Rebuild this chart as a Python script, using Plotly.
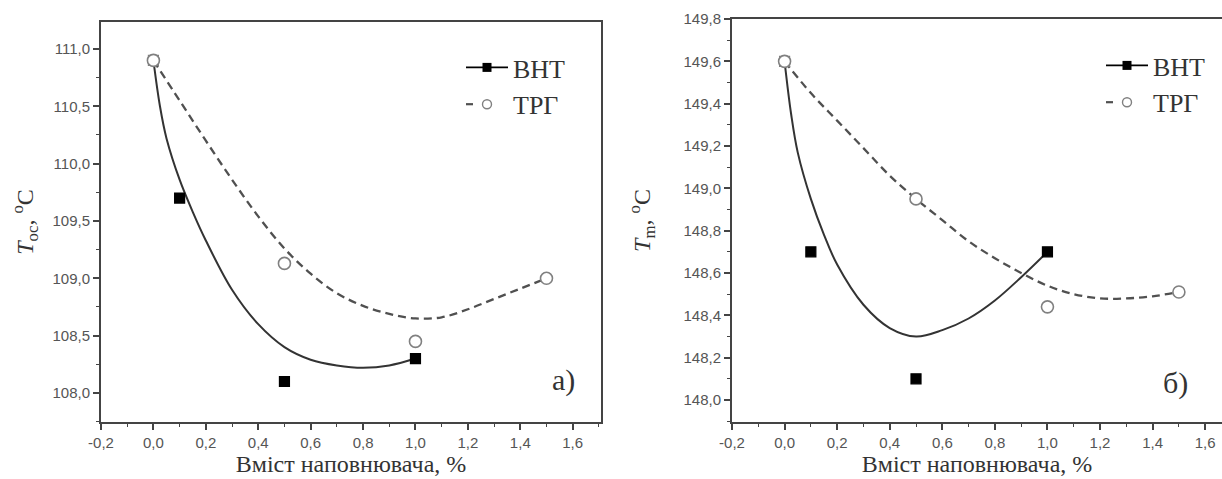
import plotly.graph_objects as go

# ---------------- data ----------------
# panel a) : T_oc
a_bht_x = [0.0, 0.1, 0.5, 1.0]
a_bht_y = [110.9, 109.7, 108.1, 108.3]
a_trg_x = [0.0, 0.5, 1.0, 1.5]
a_trg_y = [110.9, 109.13, 108.45, 109.0]
# fitted curves
a_bht_fit_x = [0, 0.025, 0.05, 0.1, 0.15, 0.2, 0.3, 0.4, 0.5, 0.6, 0.7, 0.8, 0.9, 1.0]
a_bht_fit_y = [110.9, 110.5, 110.22, 109.86, 109.58, 109.33, 108.9, 108.6, 108.4, 108.29, 108.24, 108.22, 108.24, 108.3]
a_trg_fit_x = [0, 0.1, 0.2, 0.3, 0.4, 0.5, 0.6, 0.7, 0.8, 0.9, 1.0, 1.1, 1.2, 1.3, 1.4, 1.5]
a_trg_fit_y = [110.9, 110.55, 110.2, 109.86, 109.54, 109.26, 109.04, 108.87, 108.76, 108.69, 108.65, 108.66, 108.73, 108.82, 108.91, 109.0]

# panel б) : T_m
b_bht_x = [0.0, 0.1, 0.5, 1.0]
b_bht_y = [149.6, 148.7, 148.1, 148.7]
b_trg_x = [0.0, 0.5, 1.0, 1.5]
b_trg_y = [149.6, 148.95, 148.44, 148.51]
b_bht_fit_x = [0, 0.025, 0.05, 0.1, 0.15, 0.2, 0.3, 0.4, 0.5, 0.6, 0.7, 0.8, 0.9, 1.0]
b_bht_fit_y = [149.6, 149.35, 149.17, 148.95, 148.78, 148.64, 148.45, 148.34, 148.3, 148.33, 148.385, 148.47, 148.58, 148.7]
b_trg_fit_x = [0, 0.1, 0.2, 0.3, 0.4, 0.5, 0.6, 0.7, 0.8, 0.9, 1.0, 1.1, 1.2, 1.3, 1.4, 1.5]
b_trg_fit_y = [149.6, 149.45, 149.32, 149.19, 149.06, 148.95, 148.85, 148.75, 148.67, 148.6, 148.54, 148.5, 148.48, 148.48, 148.49, 148.51]

x_ticks = [-0.2, 0.0, 0.2, 0.4, 0.6, 0.8, 1.0, 1.2, 1.4, 1.6]
x_ticktext = ["-0,2", "0,0", "0,2", "0,4", "0,6", "0,8", "1,0", "1,2", "1,4", "1,6"]
a_y_ticks = [108.0, 108.5, 109.0, 109.5, 110.0, 110.5, 111.0]
a_y_ticktext = ["108,0", "108,5", "109,0", "109,5", "110,0", "110,5", "111,0"]
b_y_ticks = [148.0, 148.2, 148.4, 148.6, 148.8, 149.0, 149.2, 149.4, 149.6, 149.8]
b_y_ticktext = ["148,0", "148,2", "148,4", "148,6", "148,8", "149,0", "149,2", "149,4", "149,6", "149,8"]

series_names = ["ВНТ", "ТРГ"]
x_title = "Вміст наповнювача, %"
a_y_title = "<i>T</i><sub>oc</sub>, <sup>o</sup>C"
b_y_title = "<i>T</i><sub>m</sub>, <sup>o</sup>C"

# ---------------- styles ----------------
SOLID = "#333333"
DASH = "#505050"
CIRC = "#808080"
SERIF = "Liberation Serif"
SANS = "Liberation Sans"

fig = go.Figure()

def add_panel(xa, ya, bx, by, tx, ty, bfx, bfy, tfx, tfy, legend):
    fig.add_trace(go.Scatter(x=bfx, y=bfy, mode="lines", line=dict(color=SOLID, width=2, shape="spline", smoothing=1.0),
                             xaxis=xa, yaxis=ya, showlegend=False, hoverinfo="skip"))
    fig.add_trace(go.Scatter(x=tfx, y=tfy, mode="lines", line=dict(color=DASH, width=2.3, dash="8px,5px", shape="spline", smoothing=1.0),
                             xaxis=xa, yaxis=ya, showlegend=False, hoverinfo="skip"))
    colors = ["white" if v == 0 else "black" for v in bx]
    lcolors = [CIRC if v == 0 else "black" for v in bx]
    fig.add_trace(go.Scatter(x=bx, y=by, mode="markers",
                             marker=dict(symbol="square", size=10, color=colors, line=dict(color=lcolors, width=1.2)),
                             xaxis=xa, yaxis=ya, showlegend=False))
    fig.add_trace(go.Scatter(x=tx, y=ty, mode="markers",
                             marker=dict(symbol="circle", size=12, color="white", line=dict(color=CIRC, width=1.6)),
                             xaxis=xa, yaxis=ya, showlegend=False))
    # legend entries
    fig.add_trace(go.Scatter(x=[None], y=[None], mode="lines+markers", name=series_names[0],
                             line=dict(color="black", width=1.8),
                             marker=dict(symbol="square", size=9, color="black"),
                             xaxis=xa, yaxis=ya, legend=legend))
    fig.add_trace(go.Scatter(x=[None], y=[None], mode="lines+markers", name=series_names[1],
                             line=dict(color=DASH, width=2.2, dash="7px,40px"),
                             marker=dict(symbol="circle", size=9, color="white", line=dict(color=CIRC, width=1.4)),
                             xaxis=xa, yaxis=ya, legend=legend))

add_panel("x", "y", a_bht_x, a_bht_y, a_trg_x, a_trg_y, a_bht_fit_x, a_bht_fit_y, a_trg_fit_x, a_trg_fit_y, "legend")
add_panel("x2", "y2", b_bht_x, b_bht_y, b_trg_x, b_trg_y, b_bht_fit_x, b_bht_fit_y, b_trg_fit_x, b_trg_fit_y, "legend2")

W, H = 1222, 479

def xaxis(domain, rng, anchor):
    return dict(domain=domain, range=rng, anchor=anchor, tickvals=x_ticks, ticktext=x_ticktext, automargin=False,
                showline=True, linecolor="#444", linewidth=2, mirror=True, showgrid=False, zeroline=False,
                ticks="outside", ticklen=6, tickwidth=1.5, tickcolor="#444",
                minor=dict(dtick=0.1, tick0=0, ticks="outside", ticklen=3, tickwidth=1.2, tickcolor="#444"),
                tickfont=dict(family=SANS, size=15, color="#555"),
                title=dict(text=x_title, font=dict(family=SERIF, size=24, color="#333"), standoff=0))

def yaxis(domain, rng, anchor, tv, tt, mdt, title, standoff):
    return dict(domain=domain, range=rng, anchor=anchor, tickvals=tv, ticktext=tt, automargin=False,
                showline=True, linecolor="#444", linewidth=2, mirror=True, showgrid=False, zeroline=False,
                ticks="outside", ticklen=6, tickwidth=1.5, tickcolor="#444",
                minor=dict(dtick=mdt, tick0=0, ticks="outside", ticklen=3, tickwidth=1.2, tickcolor="#444"),
                tickfont=dict(family=SANS, size=15, color="#555"),
                title=dict(text=title, font=dict(family=SERIF, size=24, color="#333"), standoff=standoff))

fig.update_layout(
    width=W, height=H,
    margin=dict(l=0, r=0, t=0, b=0, autoexpand=False),
    paper_bgcolor="white", plot_bgcolor="white",
    xaxis=xaxis([101 / W, 601 / W], [-0.2, 1.708], "y"),
    yaxis=yaxis([(H - 422) / H, (H - 22) / H], [107.747, 111.235], "x", a_y_ticks, a_y_ticktext, 0.25, a_y_title, 12),
    xaxis2=xaxis([732 / W, 1.0], [-0.2, 1.664], "y2"),
    yaxis2=yaxis([(H - 422) / H, (H - 19) / H], [147.896, 149.8], "x2", b_y_ticks, b_y_ticktext, 0.1, b_y_title, 26),
    legend=dict(x=461 / W, y=(H - 44) / H, xanchor="left", yanchor="top", bgcolor="rgba(0,0,0,0)",
                font=dict(family=SERIF, size=26, color="#333"), tracegroupgap=0, itemwidth=42),
    legend2=dict(x=1101 / W, y=(H - 42) / H, xanchor="left", yanchor="top", bgcolor="rgba(0,0,0,0)",
                 font=dict(family=SERIF, size=26, color="#333"), tracegroupgap=0, itemwidth=42),
    annotations=[
        dict(text="а)", x=563 / W, y=(H - 399) / H, xref="paper", yref="paper", showarrow=False,
             font=dict(family=SERIF, size=30, color="#333")),
        dict(text="б)", x=1190 / W, y=(H - 402) / H, xref="paper", yref="paper", showarrow=False,
             font=dict(family=SERIF, size=30, color="#333")),
    ],
    showlegend=True,
)

fig.write_html("out.html", config={"displayModeBar": False},
               post_script="document.body.style.margin='0';document.body.style.overflow='hidden';")
